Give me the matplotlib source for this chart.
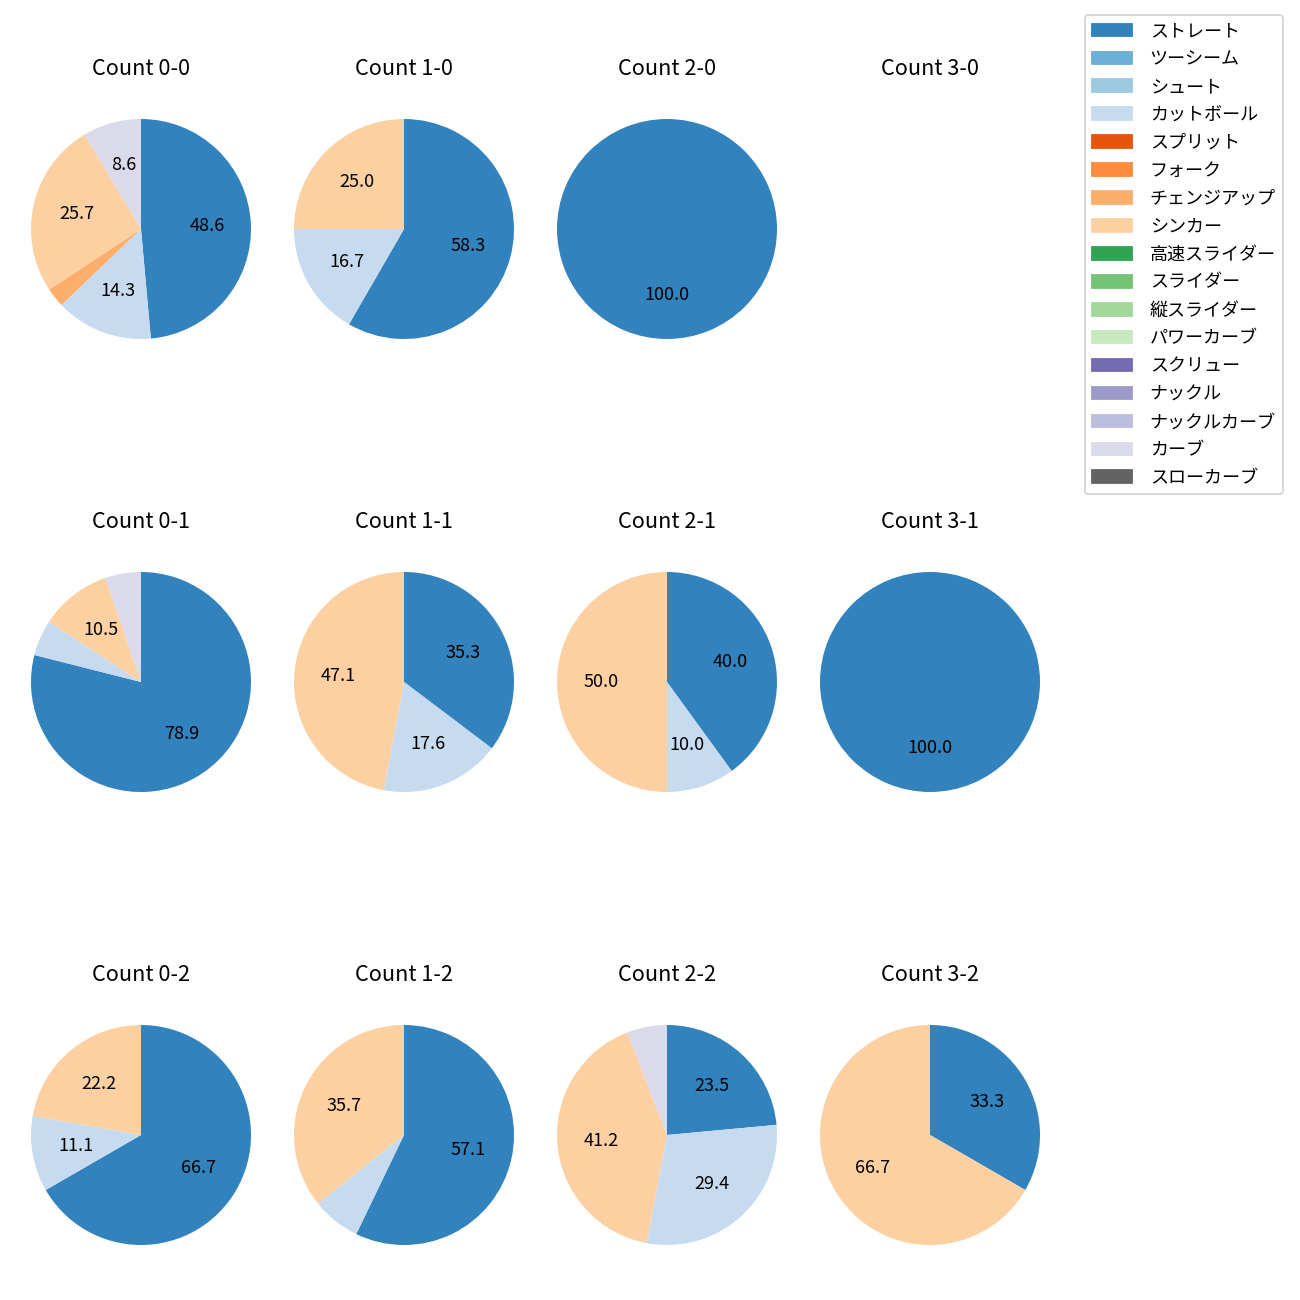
import numpy as np
import matplotlib
matplotlib.use('Agg')
import matplotlib.pyplot as plt
from matplotlib.patches import Patch

plt.rcParams['font.family'] = ['Noto Sans CJK JP', 'DejaVu Sans']

pitch_types = ['ストレート', 'ツーシーム', 'シュート', 'カットボール', 'スプリット',
               'フォーク', 'チェンジアップ', 'シンカー', '高速スライダー', 'スライダー',
               '縦スライダー', 'パワーカーブ', 'スクリュー', 'ナックル', 'ナックルカーブ',
               'カーブ', 'スローカーブ']

# pitch counts per ball-strike count, in the order of pitch_types
counts = {
    '0-0': [17, 0, 0, 5, 0, 0, 1, 9, 0, 0, 0, 0, 0, 0, 0, 3, 0],
    '1-0': [7, 0, 0, 2, 0, 0, 0, 3, 0, 0, 0, 0, 0, 0, 0, 0, 0],
    '2-0': [3, 0, 0, 0, 0, 0, 0, 0, 0, 0, 0, 0, 0, 0, 0, 0, 0],
    '3-0': [0, 0, 0, 0, 0, 0, 0, 0, 0, 0, 0, 0, 0, 0, 0, 0, 0],
    '0-1': [15, 0, 0, 1, 0, 0, 0, 2, 0, 0, 0, 0, 0, 0, 0, 1, 0],
    '1-1': [6, 0, 0, 3, 0, 0, 0, 8, 0, 0, 0, 0, 0, 0, 0, 0, 0],
    '2-1': [4, 0, 0, 1, 0, 0, 0, 5, 0, 0, 0, 0, 0, 0, 0, 0, 0],
    '3-1': [2, 0, 0, 0, 0, 0, 0, 0, 0, 0, 0, 0, 0, 0, 0, 0, 0],
    '0-2': [6, 0, 0, 1, 0, 0, 0, 2, 0, 0, 0, 0, 0, 0, 0, 0, 0],
    '1-2': [8, 0, 0, 1, 0, 0, 0, 5, 0, 0, 0, 0, 0, 0, 0, 0, 0],
    '2-2': [4, 0, 0, 5, 0, 0, 0, 7, 0, 0, 0, 0, 0, 0, 0, 1, 0],
    '3-2': [1, 0, 0, 0, 0, 0, 0, 2, 0, 0, 0, 0, 0, 0, 0, 0, 0],
}

colors = [plt.cm.tab20c(i) for i in range(len(pitch_types))]

W = 1300.
col_x = [141, 404, 667, 930]
row_y = [229, 682, 1135]
size = 275.

fig = plt.figure(figsize=(10, 10), dpi=130)

for key, vals in counts.items():
    b, s = key.split('-')
    cx, cy = col_x[int(b)], row_y[int(s)]
    ax = fig.add_axes([(cx - size / 2) / W, 1 - (cy + size / 2) / W,
                       size / W, size / W])
    vals = np.array(vals, dtype=float)
    if vals.sum() > 0:
        idx = vals > 0
        ax.pie(vals[idx], colors=[c for c, k in zip(colors, idx) if k],
               startangle=90, counterclock=False,
               autopct=lambda p: '{:.1f}'.format(p) if p >= 8 else '')
    ax.set_xlim(-1.25, 1.25)
    ax.set_ylim(-1.25, 1.25)
    ax.set_aspect('equal')
    ax.axis('off')
    ax.set_title('Count ' + key, pad=9)

handles = [Patch(color=c, label=l) for c, l in zip(colors, pitch_types)]
fig.legend(handles=handles, loc='upper right', bbox_to_anchor=(0.9938, 0.9954),
           labelspacing=0.55, handletextpad=1.0, handlelength=2.2)

plt.savefig('out.png', dpi=130)
